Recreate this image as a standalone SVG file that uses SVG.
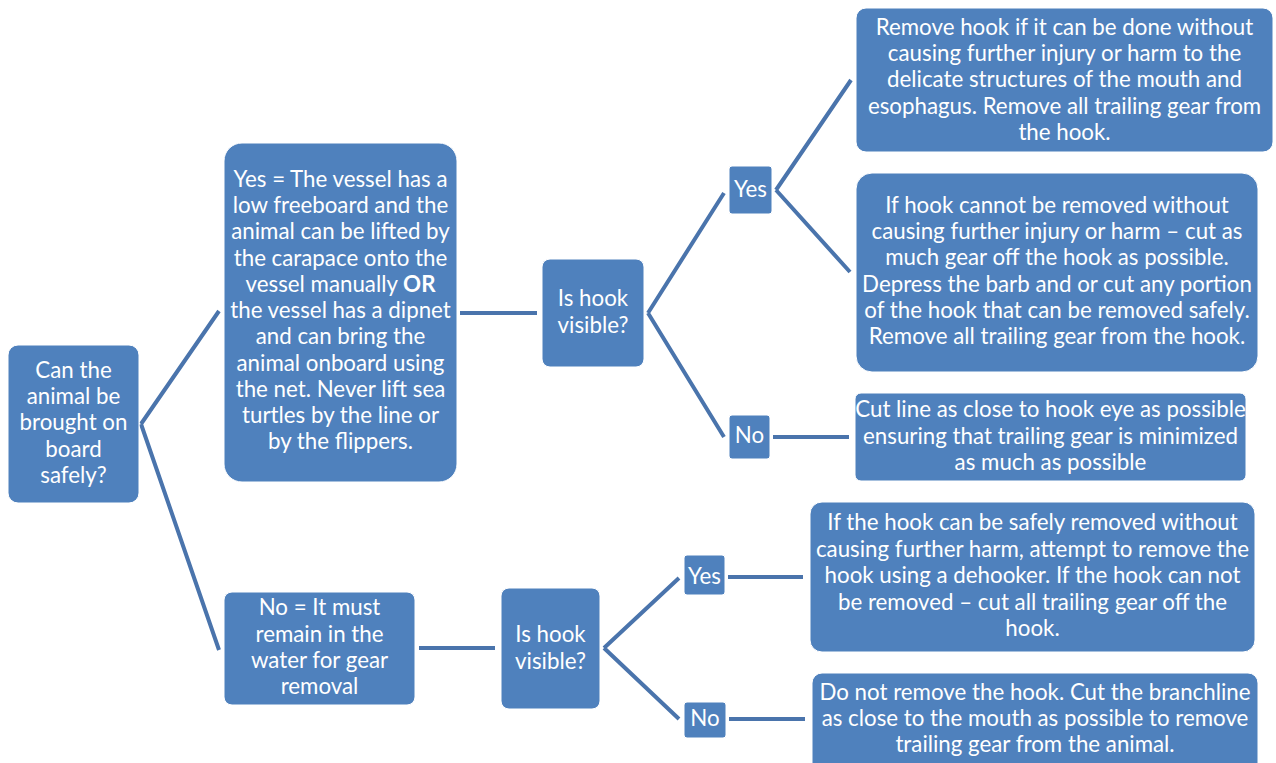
<svg xmlns="http://www.w3.org/2000/svg" width="1276" height="763" viewBox="0 0 1276 763">
<style>
.box{fill:#4F81BD;stroke:#ffffff;stroke-width:1}
.t{font-family:Lato,"Liberation Sans",sans-serif;font-size:22.3px;fill:#ffffff;text-anchor:middle}
.c{stroke:#4A74AC;stroke-width:4;fill:none}
</style>
<rect width="1276" height="763" fill="#ffffff"/>
<g id="connectors">
<path class="c" d="M141,424 L219,311 M141,424 L219,650"/>
<path class="c" d="M460,313 L537,313"/>
<path class="c" d="M648,313 L724,193 M648,313 L724,437"/>
<path class="c" d="M776,190 L851,80 M776,190 L850,272"/>
<path class="c" d="M773,437 L849,437"/>
<path class="c" d="M419,648 L495,648"/>
<path class="c" d="M604,648 L679,578 M604,648 L679,719"/>
<path class="c" d="M728,577 L803,577"/>
<path class="c" d="M729,719 L805,719"/>
</g>
<g id="nodeA">
<rect class="box" x="8" y="345" width="131" height="158" rx="10"/>
<text class="t"><tspan x="73.5" y="378">Can the</tspan><tspan x="73.5" y="404">animal be</tspan><tspan x="73.5" y="430">brought on</tspan><tspan x="73.5" y="457">board</tspan><tspan x="73.5" y="483">safely?</tspan></text>
</g>
<g id="nodeB">
<rect class="box" x="224" y="143" width="233" height="339" rx="18"/>
<text class="t"><tspan x="340.5" y="187">Yes = The vessel has a</tspan><tspan x="340.5" y="213">low freeboard and the</tspan><tspan x="340.5" y="239">animal can be lifted by</tspan><tspan x="340.5" y="266">the carapace onto the</tspan><tspan x="340.5" y="292">vessel manually <tspan font-weight="bold">OR</tspan></tspan><tspan x="340.5" y="318">the vessel has a dipnet</tspan><tspan x="340.5" y="344">and can bring the</tspan><tspan x="340.5" y="371">animal onboard using</tspan><tspan x="340.5" y="397">the net. Never lift sea</tspan><tspan x="340.5" y="423">turtles by the line or</tspan><tspan x="340.5" y="449">by the flippers.</tspan></text>
</g>
<g id="nodeC">
<rect class="box" x="542" y="259" width="102" height="108" rx="8"/>
<text class="t"><tspan x="593" y="306">Is hook</tspan><tspan x="593" y="333">visible?</tspan></text>
</g>
<g id="yesTop">
<rect class="box" x="729" y="166" width="43" height="48" rx="3"/>
<text class="t" x="750.5" y="197">Yes</text>
</g>
<g id="noTop">
<rect class="box" x="729" y="415" width="41" height="44" rx="3"/>
<text class="t" x="749.5" y="443">No</text>
</g>
<g id="r1">
<rect class="box" x="856" y="8" width="417" height="144" rx="10"/>
<text class="t"><tspan x="1064.5" y="35">Remove hook if it can be done without</tspan><tspan x="1064.5" y="61">causing further injury or harm to the</tspan><tspan x="1064.5" y="87">delicate structures of the mouth and</tspan><tspan x="1064.5" y="114">esophagus. Remove all trailing gear from</tspan><tspan x="1064.5" y="140">the hook.</tspan></text>
</g>
<g id="r2">
<rect class="box" x="856" y="173" width="402" height="199" rx="16"/>
<text class="t"><tspan x="1057" y="213">If hook cannot be removed without</tspan><tspan x="1057" y="239">causing further injury or harm – cut as</tspan><tspan x="1057" y="265">much gear off the hook as possible.</tspan><tspan x="1057" y="292">Depress the barb and or cut any portion</tspan><tspan x="1057" y="318">of the hook that can be removed safely.</tspan><tspan x="1057" y="344">Remove all trailing gear from the hook.</tspan></text>
</g>
<g id="r3">
<rect class="box" x="855" y="393" width="391" height="88" rx="6"/>
<text class="t"><tspan x="1050.5" y="417">Cut line as close to hook eye as possible</tspan><tspan x="1050.5" y="444">ensuring that trailing gear is minimized</tspan><tspan x="1050.5" y="470">as much as possible</tspan></text>
</g>
<g id="nodeD">
<rect class="box" x="224" y="592" width="191" height="113" rx="8"/>
<text class="t"><tspan x="319.5" y="615">No = It must</tspan><tspan x="319.5" y="642">remain in the</tspan><tspan x="319.5" y="668">water for gear</tspan><tspan x="319.5" y="694">removal</tspan></text>
</g>
<g id="nodeE">
<rect class="box" x="501" y="588" width="99" height="121" rx="8"/>
<text class="t"><tspan x="550.5" y="642">Is hook</tspan><tspan x="550.5" y="669">visible?</tspan></text>
</g>
<g id="yesBottom">
<rect class="box" x="684" y="555" width="41" height="40" rx="3"/>
<text class="t" x="704.5" y="584">Yes</text>
</g>
<g id="noBottom">
<rect class="box" x="684" y="702" width="42" height="36" rx="3"/>
<text class="t" x="705" y="726">No</text>
</g>
<g id="r4">
<rect class="box" x="810" y="502" width="445" height="150" rx="12"/>
<text class="t"><tspan x="1032.5" y="530">If the hook can be safely removed without</tspan><tspan x="1032.5" y="557">causing further harm, attempt to remove the</tspan><tspan x="1032.5" y="583">hook using a dehooker. If the hook can not</tspan><tspan x="1032.5" y="610">be removed – cut all trailing gear off the</tspan><tspan x="1032.5" y="636">hook.</tspan></text>
</g>
<g id="r5">
<rect class="box" x="812" y="673" width="446" height="100" rx="10"/>
<text class="t"><tspan x="1035" y="700">Do not remove the hook. Cut the branchline</tspan><tspan x="1035" y="726">as close to the mouth as possible to remove</tspan><tspan x="1035" y="752">trailing gear from the animal.</tspan></text>
</g>
</svg>
